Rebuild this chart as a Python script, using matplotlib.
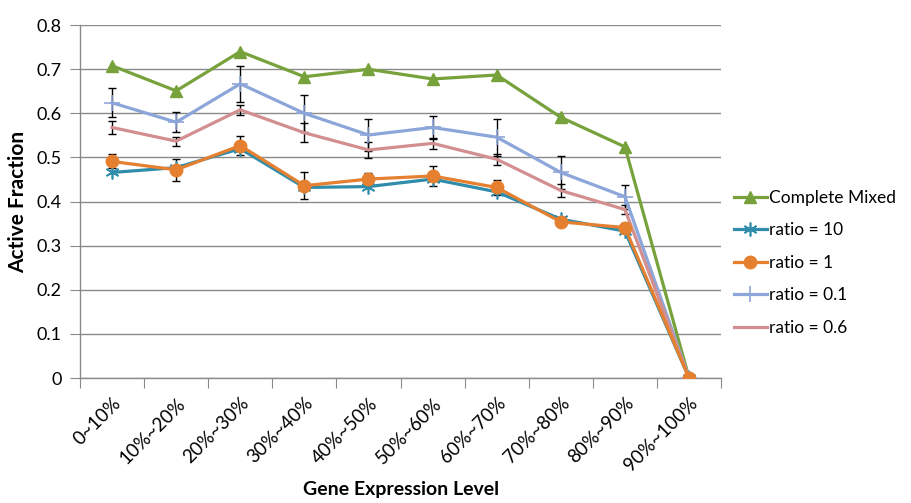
import matplotlib
matplotlib.use("Agg")
import matplotlib.pyplot as plt
import matplotlib.transforms as mtransforms
import numpy as np

# Active fraction per gene-expression decile
levels = ["0~10%", "10%~20%", "20%~30%", "30%~40%", "40%~50%",
          "50%~60%", "60%~70%", "70%~80%", "80%~90%", "90%~100%"]

complete_mixed = [0.708, 0.651, 0.740, 0.683, 0.700, 0.678, 0.687, 0.591, 0.524, 0.0]
ratio_10 = [0.466, 0.477, 0.520, 0.432, 0.434, 0.451, 0.422, 0.360, 0.333, 0.0]
ratio_1 = [0.491, 0.472, 0.527, 0.436, 0.451, 0.458, 0.432, 0.354, 0.341, 0.0]
ratio_01 = [0.624, 0.580, 0.667, 0.600, 0.551, 0.568, 0.546, 0.466, 0.411, 0.0]
ratio_06 = [0.568, 0.537, 0.608, 0.556, 0.517, 0.532, 0.496, 0.425, 0.382, 0.0]

err_1 = [0.016, 0.025, 0.022, 0.030, 0.014, 0.022, 0.016, 0.010, 0.010, 0.0]
err_01 = [0.033, 0.023, 0.041, 0.042, 0.036, 0.025, 0.042, 0.038, 0.027, 0.0]
err_06 = [0.015, 0.010, 0.012, 0.022, 0.018, 0.013, 0.012, 0.015, 0.010, 0.0]

plt.rcParams["font.family"] = ["Lato", "DejaVu Sans"]

fig = plt.figure(figsize=(9.12, 5.03), dpi=100)
ax = fig.add_axes([0.0877, 0.2485, 0.703, 0.7015])

x = np.arange(len(levels)) + 0.5
ebar = dict(ecolor="black", elinewidth=1.0, capsize=3, capthick=1.0, zorder=4)

ax.plot(x, complete_mixed, color="#77A23B", lw=2.3, marker="^", ms=9,
        label="Complete Mixed", zorder=5)
ax.plot(x, ratio_10, color="#2F8CAA", lw=2.3, marker=(6, 2, 0), ms=10, mew=1.2,
        label="ratio = 10", zorder=5)
ax.errorbar(x, ratio_1, yerr=err_1, fmt="none", **ebar)
ax.plot(x, ratio_1, color="#E4802F", lw=2.3, marker="o", ms=9,
        label="ratio = 1", zorder=6)
ax.errorbar(x, ratio_01, yerr=err_01, fmt="none", **ebar)
ax.plot(x, ratio_01, color="#8DA6D9", lw=2.3, marker="+", ms=12, mew=1.2,
        label="ratio = 0.1", zorder=5)
ax.errorbar(x, ratio_06, yerr=err_06, fmt="none", **ebar)
ax.plot(x, ratio_06, color="#D38F8F", lw=2.3, label="ratio = 0.6", zorder=5)

ax.set_xlim(0, len(levels))
ax.set_ylim(0, 0.8)
ax.set_yticks(np.arange(0, 0.81, 0.1))
ax.set_yticklabels(["0"] + [f"{v:.1f}" for v in np.arange(0.1, 0.81, 0.1)])
ax.yaxis.grid(True, color="#8A8A8A", lw=1.0)
ax.set_axisbelow(True)

# category boundaries get the tick marks, labels sit at the centres
ax.set_xticks(np.arange(len(levels) + 1))
ax.set_xticklabels([])
ax.set_xticks(x, minor=True)
ax.set_xticklabels(levels, minor=True, rotation=45, ha="right",
                   rotation_mode="anchor", fontsize=13.5)
shift = mtransforms.ScaledTranslation(5 / 72, 0, fig.dpi_scale_trans)
for lbl in ax.get_xticklabels(minor=True):
    lbl.set_transform(lbl.get_transform() + shift)
ax.tick_params(axis="x", which="major", length=7, color="#8A8A8A")
ax.tick_params(axis="x", which="minor", length=0, pad=12)
ax.tick_params(axis="y", length=7, color="#8A8A8A", labelsize=13, pad=6)

for s in ["top", "right"]:
    ax.spines[s].set_visible(False)
for s in ["left", "bottom"]:
    ax.spines[s].set_color("#8A8A8A")
    ax.spines[s].set_linewidth(1.0)

ax.set_ylabel("Active Fraction", fontsize=15, fontweight="bold", labelpad=6)
fig.text(0.44, 0.026, "Gene Expression Level", fontsize=14,
         fontweight="bold", ha="center", va="center")

ax.legend(loc="center left", bbox_to_anchor=(0.995, 0.326), frameon=False,
          fontsize=12.5, handlelength=1.9, handletextpad=0.15,
          labelspacing=0.95)

fig.savefig("out.png", dpi=100)
